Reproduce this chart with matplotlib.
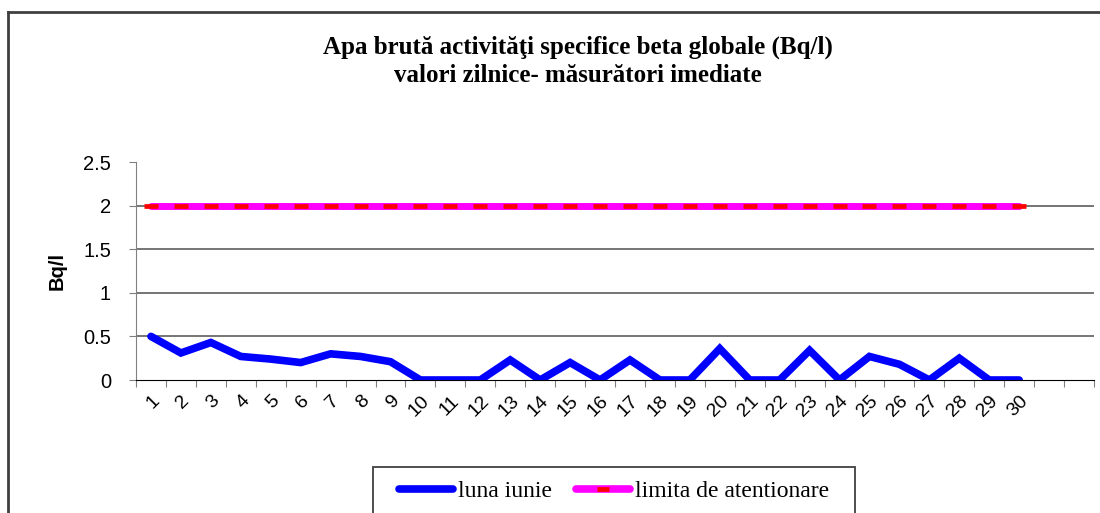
import matplotlib
matplotlib.use("Agg")
import matplotlib.pyplot as plt
from matplotlib.lines import Line2D
from matplotlib.patches import Rectangle

days = list(range(1, 31))
day_labels = [str(d) for d in days] + ["", ""]
luna_iunie = [0.50, 0.31, 0.43, 0.27, 0.24, 0.20, 0.30, 0.27, 0.21, 0.0,
              0.0, 0.0, 0.23, 0.0, 0.20, 0.0, 0.23, 0.0, 0.0, 0.36,
              0.0, 0.0, 0.34, 0.0, 0.27, 0.18, 0.0, 0.25, 0.0, 0.0]
limita = [2.0] * 30
title = "Apa brută activităţi specifice beta globale (Bq/l)\nvalori zilnice- măsurători imediate"

W, H = 1100, 513
fig = plt.figure(figsize=(W / 100, H / 100), dpi=100)

# outer frame
fig.add_artist(Line2D([8 / W, 8 / W], [0, 1 - 12 / H], transform=fig.transFigure,
                      color="#404040", lw=2))
fig.add_artist(Line2D([8 / W, 1], [1 - 12 / H, 1 - 12 / H], transform=fig.transFigure,
                      color="#404040", lw=2))

left, right = 136 / W, 1094 / W
bottom, top = 1 - 380 / H, 1 - 162 / H
ax = fig.add_axes([left, bottom, right - left, top - bottom])

n_cat = len(day_labels)
x = [d - 0.5 for d in days]
ax.plot(x, luna_iunie, color="#0000ff", lw=5.5, solid_capstyle="round",
        solid_joinstyle="miter", zorder=3)
ax.plot(x, limita, color="#ff00ff", lw=5, solid_capstyle="round", zorder=3)
ax.plot(x, limita, ls="none", marker="_", ms=10, mew=3.4, color="#ff0000", zorder=4)

ax.set_xlim(0, n_cat)
ax.set_ylim(0, 2.5)
ax.set_yticks([0, 0.5, 1, 1.5, 2, 2.5])
ax.set_yticklabels(["0", "0.5", "1", "1.5", "2", "2.5"], fontsize=14.5,
                   family="Liberation Sans")
for yv in [0.5, 1, 1.5, 2]:
    ax.axhline(yv, color="#505050", lw=1.1, zorder=1)

ax.set_xticks(range(0, n_cat + 1))
ax.set_xticklabels([])
ax.set_xticks([c + 0.5 for c in range(n_cat)], minor=True)
ax.set_xticklabels(day_labels, minor=True, rotation=45, fontsize=14,
                   family="Liberation Sans", ha="right", va="top",
                   rotation_mode="anchor")
ax.tick_params(axis="x", which="minor", length=0, pad=9)
ax.tick_params(axis="x", which="major", length=5, color="#808080", direction="out")
ax.tick_params(axis="y", length=5, color="#808080", direction="out", pad=13)

for s in ["top", "right"]:
    ax.spines[s].set_visible(False)
ax.spines["left"].set_color("#808080")
ax.spines["bottom"].set_color("#000000")

ax.set_ylabel("Bq/l", fontsize=14.5, fontweight="bold", family="Liberation Sans",
              labelpad=12)

fig.text(578 / W, 1 - 61 / H, title, ha="center", va="center", fontsize=18,
         fontweight="bold", family="Liberation Serif", linespacing=1.3)

# legend
fig.add_artist(Rectangle((373 / W, 1 - 540 / H), (855 - 373) / W, 73 / H,
                         transform=fig.transFigure, facecolor="white",
                         edgecolor="#404040", lw=1.3, zorder=5))
h1 = Line2D([], [], color="#0000ff", lw=5.5, solid_capstyle="round")
h2 = Line2D([], [], color="#ff00ff", lw=5.5, solid_capstyle="round")
h3 = Line2D([], [], ls="none", marker="_", ms=9, mew=3.4, color="#ff0000")
leg = fig.legend([h1, (h2, h3)], ["luna iunie", "limita de atentionare"],
                 loc="center", bbox_to_anchor=(614 / W, 1 - 491 / H),
                 ncol=2, frameon=False,
                 prop={"family": "Liberation Serif", "size": 17},
                 handlelength=2.3, handletextpad=0.2, columnspacing=1.0,
                 borderpad=0, borderaxespad=0)
leg.set_zorder(6)

fig.savefig("out.png", dpi=100)
